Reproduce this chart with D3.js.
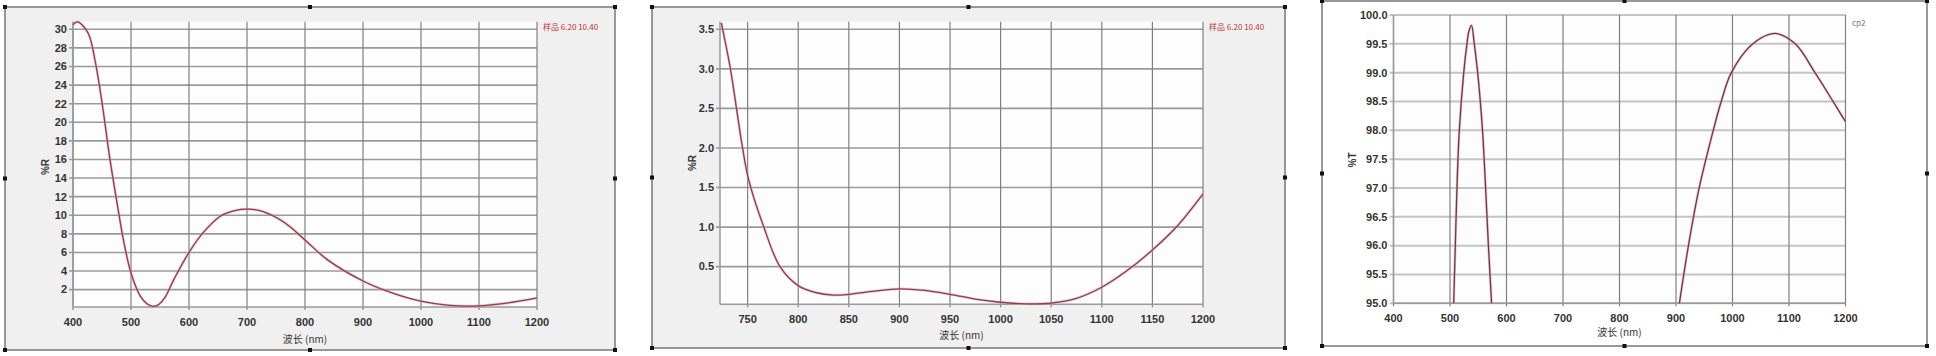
<!DOCTYPE html>
<html>
<head>
<meta charset="utf-8">
<script src="https://cdn.jsdelivr.net/npm/d3@7"></script>
<style>
  body { margin: 0; background: #fff; }
  svg text { font-family: "Liberation Sans Narrow", "Liberation Sans", Arial, sans-serif; }
</style>
</head>
<body>
<div id="chart"></div>
<script>
// panel 1: reflectance 400-1200 nm
const r1Wl = [400, 408, 426, 439, 451, 463, 476, 488, 500, 516, 528, 538, 548, 558, 574, 599, 624, 654, 679, 704, 728, 765, 799, 839, 901, 950, 1000, 1049, 1098, 1148, 1200];
const r1Val = [30.5, 30.8, 29.6, 26.3, 21.7, 16.3, 11.3, 7.0, 3.8, 1.3, 0.45, 0.2, 0.4, 1.1, 3.1, 5.9, 8.1, 9.9, 10.5, 10.65, 10.4, 9.2, 7.4, 5.2, 2.9, 1.65, 0.75, 0.3, 0.25, 0.55, 1.1];
const r1XTicks = [400, 500, 600, 700, 800, 900, 1000, 1100, 1200];
const r1YTicks = [2, 4, 6, 8, 10, 12, 14, 16, 18, 20, 22, 24, 26, 28, 30];

// panel 2: reflectance 725-1200 nm
const r2Wl = [724, 733, 739, 745, 751, 766, 782, 800, 818, 835, 850, 875, 900, 925, 950, 975, 1000, 1025, 1050, 1075, 1100, 1125, 1150, 1175, 1200];
const r2Val = [3.58, 3.0, 2.5, 2.0, 1.6, 1.0, 0.5, 0.26, 0.17, 0.14, 0.15, 0.19, 0.22, 0.2, 0.15, 0.09, 0.05, 0.03, 0.04, 0.1, 0.24, 0.45, 0.71, 1.02, 1.42];
const r2XTicks = [750, 800, 850, 900, 950, 1000, 1050, 1100, 1150, 1200];
const r2YTicks = [0.5, 1.0, 1.5, 2.0, 2.5, 3.0, 3.5];

// panel 3: transmittance, two visible arcs above 95 %
const t3aWl = [506.5, 509.4, 512.3, 516.5, 524.3, 530, 533.5, 538, 543, 549, 557.5, 563, 568, 573.6];
const t3aVal = [95.0, 96.0, 97.0, 98.0, 99.0, 99.5, 99.72, 99.82, 99.5, 99.0, 98.0, 97.0, 96.0, 95.0];
const t3bWl = [906, 922, 941, 966, 980, 998, 1036, 1075, 1111, 1146, 1178, 1200];
const t3bVal = [95.0, 96.0, 97.0, 98.0, 98.5, 99.0, 99.5, 99.68, 99.5, 99.0, 98.5, 98.15];
const t3XTicks = [400, 500, 600, 700, 800, 900, 1000, 1100, 1200];
const t3YTicks = [95.0, 95.5, 96.0, 96.5, 97.0, 97.5, 98.0, 98.5, 99.0, 99.5, 100.0];

const W = 1936, H = 356;
const svg = d3.select("#chart").append("svg").attr("width", W).attr("height", H);

function handles(x, y, w, h) {
  const pts = [[x, y], [x + w / 2, y], [x + w, y], [x, y + h / 2], [x + w, y + h / 2], [x, y + h], [x + w / 2, y + h], [x + w, y + h]];
  svg.append("g").selectAll("rect").data(pts).join("rect")
    .attr("x", d => d[0] - 2).attr("y", d => d[1] - 2)
    .attr("width", 4).attr("height", 4).attr("fill", "#111");
}

function panel(o) {
  // frame
  svg.append("rect")
    .attr("x", o.frame[0]).attr("y", o.frame[1])
    .attr("width", o.frame[2]).attr("height", o.frame[3])
    .attr("fill", o.bg).attr("stroke", "#777").attr("stroke-width", 1.5);
  handles(o.frame[0], o.frame[1], o.frame[2], o.frame[3]);

  const x = d3.scaleLinear().domain(o.xDomain).range(o.xRange);
  const y = d3.scaleLinear().domain(o.yDomain).range(o.yRange);
  const g = svg.append("g");

  // plot area
  g.append("rect")
    .attr("x", o.xRange[0]).attr("y", o.yRange[1])
    .attr("width", o.xRange[1] - o.xRange[0]).attr("height", o.yRange[0] - o.yRange[1])
    .attr("fill", "#fdfdfd");

  // horizontal grid
  g.selectAll(".hg").data(o.yTicks).join("line")
    .attr("x1", o.xRange[0] - 4).attr("x2", o.xRange[1])
    .attr("y1", d => y(d)).attr("y2", d => y(d))
    .attr("stroke", o.hColor).attr("stroke-width", o.hWidth);

  // vertical grid
  g.selectAll(".vg").data(o.xTicks).join("line")
    .attr("x1", d => x(d)).attr("x2", d => x(d))
    .attr("y1", o.yRange[1]).attr("y2", o.yRange[0] + 3)
    .attr("stroke", "#808080").attr("stroke-width", 1.2);

  // axis lines
  g.append("line")
    .attr("x1", o.xRange[0]).attr("x2", o.xRange[1])
    .attr("y1", o.yRange[0]).attr("y2", o.yRange[0])
    .attr("stroke", "#999").attr("stroke-width", 1.5);
  g.append("line")
    .attr("x1", o.xRange[0]).attr("x2", o.xRange[0])
    .attr("y1", o.yRange[1]).attr("y2", o.yRange[0])
    .attr("stroke", "#999").attr("stroke-width", 1.5);

  // tick labels
  g.selectAll(".yl").data(o.yTicks).join("text")
    .attr("x", o.xRange[0] - 6).attr("y", d => y(d)).attr("dy", "0.35em")
    .attr("text-anchor", "end").attr("font-size", 11).attr("font-weight", "bold")
    .attr("fill", "#333").text(o.yFmt);
  g.selectAll(".xl").data(o.xTicks).join("text")
    .attr("x", d => x(d)).attr("y", o.yRange[0] + 15).attr("dy", "0.35em")
    .attr("text-anchor", "middle").attr("font-size", 11).attr("font-weight", "bold")
    .attr("fill", "#333").text(d => d);

  // axis titles
  const cx = (o.xRange[0] + o.xRange[1]) / 2;
  g.append("text").attr("x", cx).attr("y", o.xTitleY).attr("dy", "0.35em")
    .attr("text-anchor", "middle").attr("font-size", 10).attr("fill", "#333")
    .style("font-family", "'Noto Sans CJK SC', sans-serif").text("波长 (nm)");
  g.append("text")
    .attr("transform", `translate(${o.yTitle[0]},${o.yTitle[1]}) rotate(-90)`)
    .attr("dy", "0.35em").attr("text-anchor", "middle")
    .attr("font-size", 10).attr("font-weight", "bold").attr("fill", "#333").text(o.yLabel);

  // note at top right
  g.append("text").attr("x", o.note[0]).attr("y", o.note[1]).attr("dy", "0.35em")
    .attr("font-size", 8).attr("fill", o.noteColor)
    .style("font-family", "'Noto Sans CJK SC', sans-serif").text(o.noteText);

  // curves
  const line = d3.line().x(d => x(d[0])).y(d => y(d[1])).curve(d3.curveCatmullRom.alpha(0.5));
  o.series.forEach(s => {
    const pts = s[0].map((w, i) => [w, s[1][i]]);
    g.append("path").datum(pts).attr("d", line)
      .attr("fill", "none").attr("stroke", "#e0a0a8").attr("stroke-width", 2.6).attr("opacity", 0.6);
    g.append("path").datum(pts).attr("d", line)
      .attr("fill", "none").attr("stroke", o.lineColor).attr("stroke-width", 1.3);
  });
}

panel({
  frame: [5, 7, 610, 343], bg: "#f0f0f0",
  xDomain: [400, 1200], xRange: [73, 537],
  yDomain: [0.13, 30.82], yRange: [307, 21.7],
  xTicks: r1XTicks, yTicks: r1YTicks, yFmt: d => d,
  hColor: "#9a9a9a", hWidth: 1.6,
  xTitleY: 339, yTitle: [45, 167], yLabel: "%R",
  note: [543, 27], noteText: "样品 6.20 10.40", noteColor: "#c0303a",
  series: [[r1Wl, r1Val]], lineColor: "#8e3f4c"
});

panel({
  frame: [652, 7, 633, 341], bg: "#f0f0f0",
  xDomain: [722.7, 1200], xRange: [720, 1203],
  yDomain: [0.024, 3.596], yRange: [304.3, 21.7],
  xTicks: r2XTicks, yTicks: r2YTicks, yFmt: d3.format(".1f"),
  hColor: "#9a9a9a", hWidth: 1.6,
  xTitleY: 335, yTitle: [692, 163], yLabel: "%R",
  note: [1209, 27], noteText: "样品 6.20 10.40", noteColor: "#c0303a",
  series: [[r2Wl, r2Val]], lineColor: "#8e3f4c"
});

panel({
  frame: [1322, 1, 605, 345], bg: "#ffffff",
  xDomain: [400, 1200], xRange: [1393.5, 1845.5],
  yDomain: [95, 100], yRange: [303.3, 15],
  xTicks: t3XTicks, yTicks: t3YTicks, yFmt: d3.format(".1f"),
  hColor: "#c4c4c4", hWidth: 2,
  xTitleY: 332, yTitle: [1352, 160], yLabel: "%T",
  note: [1852, 23], noteText: "cp2", noteColor: "#777",
  series: [[t3aWl, t3aVal], [t3bWl, t3bVal]], lineColor: "#6e3a44"
});
</script>
</body>
</html>
